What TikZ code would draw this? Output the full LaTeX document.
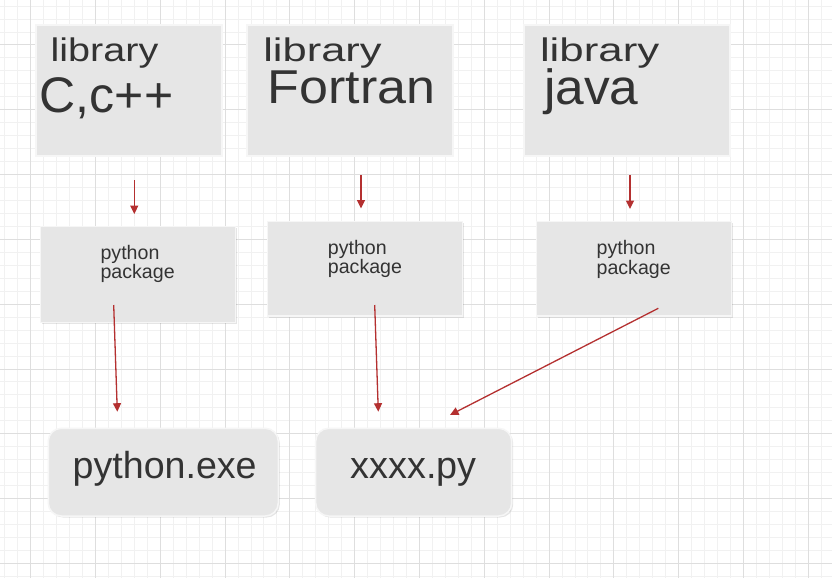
\documentclass[tikz,border=0pt]{standalone}
\usepackage{fontspec}
\usepackage{graphicx}
\setmainfont{Liberation Sans}
\usetikzlibrary{arrows.meta,shadows}
\definecolor{minorc}{RGB}{241,241,241}
\definecolor{majorc}{RGB}{222,222,222}
\definecolor{boxc}{RGB}{230,230,230}
\definecolor{edgec}{RGB}{246,246,246}
\definecolor{txtc}{RGB}{51,51,51}
\definecolor{arrc}{RGB}{180,48,48}
\begin{document}
\begin{tikzpicture}[x=1pt,y=-1pt,
  minorgrid/.style={draw=minorc,line width=1pt},
  majorgrid/.style={draw=majorc,line width=1pt},
  libbox/.style={rectangle,fill=boxc,draw=edgec,line width=1.2pt,inner sep=0pt},
  pkgbox/.style={rectangle,fill=boxc,draw=edgec,line width=1.2pt,inner sep=0pt,
    drop shadow={shadow xshift=1.5pt,shadow yshift=-1.5pt,opacity=0.10,fill=black}},
  exebox/.style={rectangle,rounded corners=13pt,fill=boxc,draw=edgec,line width=1.5pt,inner sep=0pt,
    drop shadow={shadow xshift=1.5pt,shadow yshift=-1.5pt,opacity=0.10,fill=black}},
  txt/.style={inner sep=0pt,anchor=base west,text=txtc,align=left},
  pkgtxt/.style={txt,font=\fontsize{19.6}{17.6}\selectfont},
  arr/.style={draw=arrc,line width=1.3pt,-{Triangle[length=8.5pt,width=8pt]}}
]
\useasboundingbox (0,0) rectangle (832,578);
\fill[white] (0,0) rectangle (832,578);
% grid
\foreach \k in {-2,...,62} {\draw[minorgrid] ({30.7+12.96*\k},0) -- ({30.7+12.96*\k},578);}
\foreach \k in {-3,...,41} {\draw[minorgrid] (0,{45+12.96*\k}) -- (832,{45+12.96*\k});}
\foreach \k in {0,...,12} {\draw[majorgrid] ({30.7+64.8*\k},0) -- ({30.7+64.8*\k},578);}
\foreach \k in {0,...,8} {\draw[majorgrid] (0,{45+64.8*\k}) -- (832,{45+64.8*\k});}

% library boxes
\node[libbox,minimum width=186pt,minimum height=131pt] (b1) at (129,90.5) {};
\node[libbox,minimum width=206pt,minimum height=131pt] (b2) at (350,90.5) {};
\node[libbox,minimum width=206pt,minimum height=131pt] (b3) at (627,90.5) {};
\node[txt,font=\fontsize{32.7}{36}\selectfont] (t1a) at (50.4,61.7) {\scalebox{1.21}[1]{library}};
\node[txt,font=\fontsize{50}{56}\selectfont] (t1b) at (39.6,112.7) {C,c++};
\node[txt,font=\fontsize{32.7}{36}\selectfont] (t2a) at (263.1,61.7) {\scalebox{1.33}[1]{library}};
\node[txt,font=\fontsize{47.5}{52}\selectfont] (t2b) at (267.5,103.3) {\scalebox{1.095}[1]{Fortran}};
\node[txt,font=\fontsize{32.7}{36}\selectfont] (t3a) at (539.8,61.7) {\scalebox{1.34}[1]{library}};
\node[txt,font=\fontsize{49.5}{54}\selectfont] (t3b) at (544,104) {\scalebox{1.04}[1]{java}};

% package boxes
\node[pkgbox,minimum width=195pt,minimum height=95.6pt] (p1) at (138.2,274.5) {};
\node[pkgbox,minimum width=195pt,minimum height=94.3pt] (p2) at (364.8,268.85) {};
\node[pkgbox,minimum width=195pt,minimum height=94.3pt] (p3) at (634.2,268.85) {};
\node[pkgtxt] (q1) at (100.4,278.3) {python\\package};
\node[pkgtxt] (q2) at (327.7,273.3) {python\\package};
\node[pkgtxt] (q3) at (596.4,274) {python\\package};

% executable boxes
\node[exebox,minimum width=230pt,minimum height=87.7pt] (e1) at (163.3,472.15) {};
\node[exebox,minimum width=196pt,minimum height=87.7pt] (e2) at (413.7,472.15) {};
\node[txt,font=\fontsize{37.6}{42}\selectfont] (r1) at (72.5,478.3) {python.exe};
\node[txt,font=\fontsize{37.8}{42}\selectfont] (r2) at (350.5,478.3) {xxxx.py};

% connectors
\coordinate (a1s) at (134.3,180);   \coordinate (a1e) at (134.3,214);
\coordinate (a2s) at (361,175);     \coordinate (a2e) at (361,208.5);
\coordinate (a3s) at (630,175);     \coordinate (a3e) at (630,209);
\coordinate (a4s) at (113.7,305);   \coordinate (a4e) at (117.3,411.7);
\coordinate (a5s) at (374.7,305);   \coordinate (a5e) at (378.3,411.7);
\coordinate (a6s) at (658.3,308.3); \coordinate (a6e) at (450,415);
\draw[arr] (a1s) -- (a1e);
\draw[arr] (a2s) -- (a2e);
\draw[arr] (a3s) -- (a3e);
\draw[arr] (a4s) -- (a4e);
\draw[arr] (a5s) -- (a5e);
\draw[arr] (a6s) -- (a6e);
\end{tikzpicture}
\end{document}
